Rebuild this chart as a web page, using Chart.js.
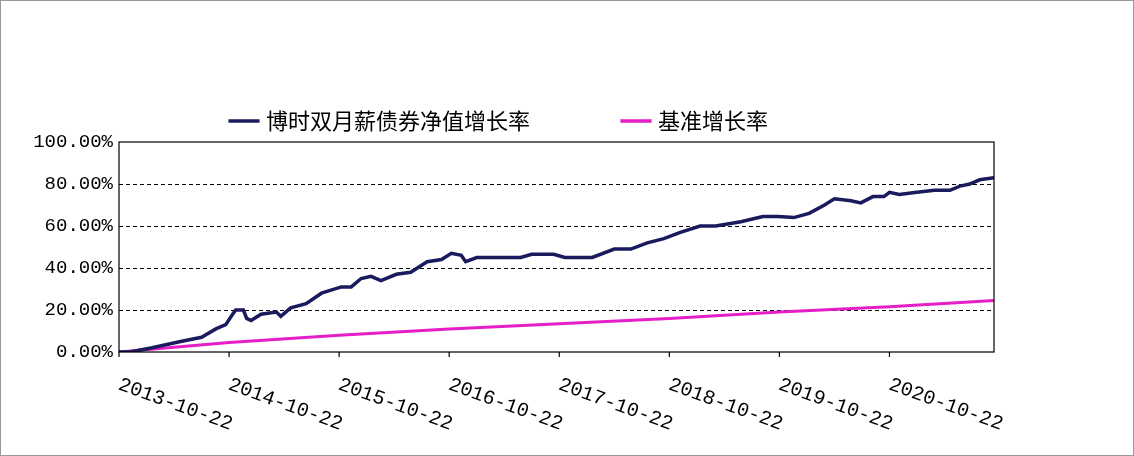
<!DOCTYPE html>
<html><head><meta charset="utf-8">
<script src="https://cdn.jsdelivr.net/npm/chart.js@4"></script>
<style>
body{margin:0;background:#fff}
#wrap{position:absolute;left:0;top:0;width:1132px;height:454px;border:1px solid #999}
</style></head>
<body><div id="wrap"><canvas id="c" width="1132" height="454"></canvas></div>
<script>
// years since 2013-10-22
const tickLabels = ['2013-10-22','2014-10-22','2015-10-22','2016-10-22','2017-10-22','2018-10-22','2019-10-22','2020-10-22'];
const fundT = [0,0.1,0.3,0.56,0.75,0.88,0.97,1.02,1.06,1.13,1.16,1.2,1.29,1.43,1.47,1.56,1.7,1.84,2.02,2.11,2.2,2.29,2.38,2.52,2.65,2.8,2.93,3.02,3.11,3.15,3.25,3.45,3.65,3.75,3.95,4.05,4.3,4.5,4.65,4.8,4.95,5.1,5.28,5.42,5.65,5.85,5.99,6.13,6.27,6.41,6.5,6.65,6.74,6.85,6.95,7.0,7.09,7.23,7.41,7.55,7.64,7.73,7.82,7.95];
const fundV = [0,0,2,5,7,11,13,17,20,20,16,15,18,19,17,21,23,28,31,31,35,36,34,37,38,43,44,47,46,43,45,45,45,46.5,46.5,45,45,49,49,52,54,57,60,60,62,64.5,64.5,64,66,70,73,72,71,74,74,76,75,76,77,77,79,80,82,83];
const benchT = [0,1,2,3,4,5,6,7,7.95];
const benchV = [0,4.5,8,11,13.5,16,19,21.5,24.5];
const yTicks = [0,20,40,60,80,100];

const toPts = (t,v) => t.map((x,i)=>({x:x,y:v[i]}));

const frame = {
  id:'frame',
  afterDraw(ch){
    const {ctx,chartArea:a,scales:{x}} = ch;
    ctx.save();
    ctx.strokeStyle='#000';ctx.lineWidth=1.2;
    ctx.strokeRect(a.left,a.top,a.right-a.left,a.bottom-a.top);
    ctx.font='20px "Liberation Mono","DejaVu Sans Mono",monospace';
    ctx.fillStyle='#000';
    tickLabels.forEach((l,i)=>{
      const px = x.getPixelForValue(i);
      ctx.beginPath();ctx.moveTo(px,a.bottom);ctx.lineTo(px,a.bottom+5);ctx.stroke();
      ctx.save();
      ctx.translate(px,a.bottom+32);
      ctx.rotate(20*Math.PI/180);
      ctx.fillText(l,0,0);
      ctx.restore();
    });
    ctx.restore();
  }
};

new Chart(document.getElementById('c').getContext('2d'),{
  type:'line',
  data:{datasets:[
    {label:'博时双月薪债券净值增长率',data:toPts(fundT,fundV),borderColor:'#1a1a5e',backgroundColor:'#1a1a5e',borderWidth:3.5,pointRadius:0,tension:0},
    {label:'基准增长率',data:toPts(benchT,benchV),borderColor:'#e61ec8',backgroundColor:'#e61ec8',borderWidth:3,pointRadius:0,tension:0}
  ]},
  options:{
    responsive:false,animation:false,
    layout:{padding:{left:6,right:139,top:14,bottom:0}},
    plugins:{
      legend:{labels:{usePointStyle:true,pointStyle:'line',boxWidth:44,padding:95,color:'#000',
        font:{family:'"Noto Sans CJK SC"',size:22},
        generateLabels(ch){return ch.data.datasets.map((d,i)=>({text:d.label,strokeStyle:d.borderColor,fillStyle:d.borderColor,lineWidth:3.5,pointStyle:'line',datasetIndex:i,fontColor:'#000'}));}
      }},
      tooltip:{enabled:false}
    },
    scales:{
      x:{type:'linear',min:0,max:7.95,grid:{display:false},border:{display:false},
        ticks:{display:false},afterFit(s){s.height=103;}},
      y:{min:0,max:100,afterFit(s){s.width=112;},
        afterBuildTicks(s){s.ticks=yTicks.map(v=>({value:v}));},
        border:{display:false,dash:[4,3]},
        grid:{color:c=>(c.tick&&c.tick.value>0&&c.tick.value<100)?'#000':'rgba(0,0,0,0)',lineWidth:1,drawTicks:false},
        ticks:{color:'#000',padding:6,font:{family:'"Liberation Mono","DejaVu Sans Mono",monospace',size:19},callback:v=>v.toFixed(2)+'%'}
      }
    }
  },
  plugins:[frame]
});
</script></body></html>
